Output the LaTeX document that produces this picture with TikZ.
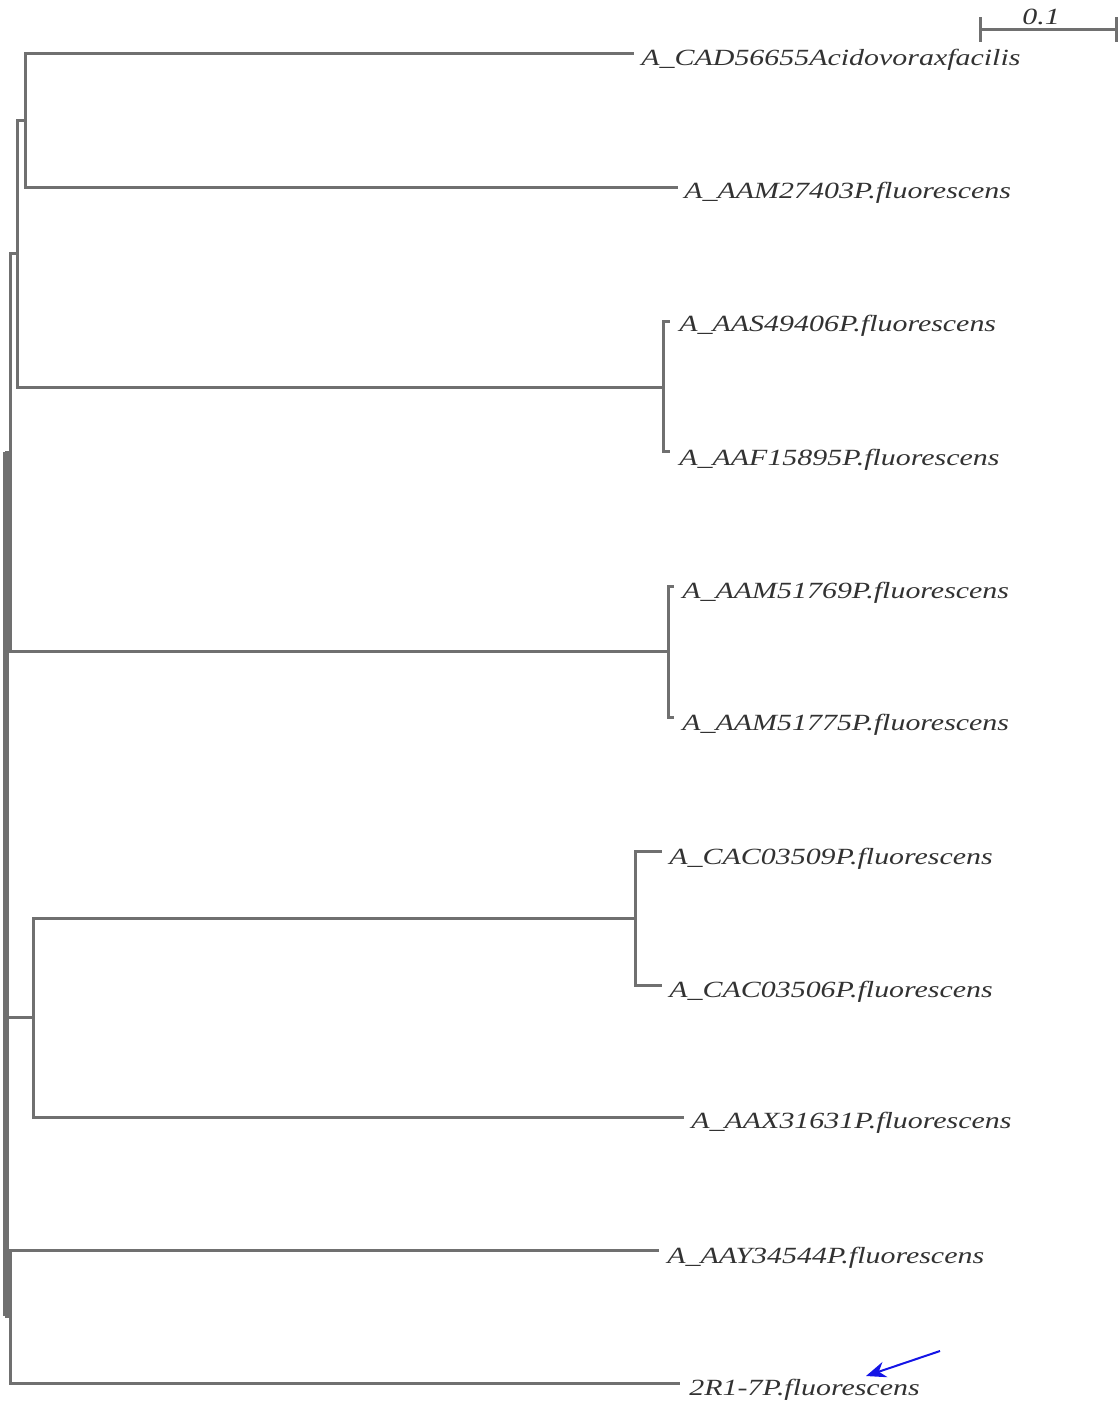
\documentclass[tikz,border=0pt]{standalone}
\usepackage{fontspec}
\usetikzlibrary{arrows.meta}
\setmainfont{Liberation Serif}
\definecolor{treeg}{RGB}{112,112,112}
\definecolor{labg}{RGB}{50,50,50}
\definecolor{arrowb}{RGB}{20,20,230}
\tikzset{
  branch/.style={draw=treeg, line width=1.5pt, line cap=rect},
  rootbranch/.style={draw=treeg, line width=3.4pt},
  leaflab/.style={anchor=west, inner sep=0pt, text=labg, font=\fontsize{11.6}{12}\selectfont\itshape},
}
\newcommand{\wlab}[1]{\scalebox{1.29}[1]{#1}}
\begin{document}
\begin{tikzpicture}[x=0.5pt,y=-0.5pt]
\useasboundingbox (0,0) rectangle (1118,1403);
% internal nodes
\coordinate (nA) at (25,120);
\coordinate (nB) at (17,253);
\coordinate (nC) at (10,452);
\coordinate (nD) at (6,1316);
\coordinate (nE) at (33,1017);
\coordinate (nF) at (10,1316);
\coordinate (nAAS) at (663,387);
\coordinate (nAAM) at (668,651);
\coordinate (nCAC) at (635,918);
% leaf tips
\coordinate (t1) at (632,53);
\coordinate (t2) at (676,187);
\coordinate (t3) at (668,321);
\coordinate (t4) at (668,451);
\coordinate (t5) at (672,586);
\coordinate (t6) at (672,717);
\coordinate (t7) at (660,851);
\coordinate (t8) at (660,985);
\coordinate (t9) at (682,1117);
\coordinate (t10) at (657,1250);
\coordinate (t11) at (678,1383);
% labels
\node[leaflab] (l1) at (641,60) {\wlab{A\_CAD56655Acidovoraxfacilis}};
\node[leaflab] (l2) at (684,193) {\wlab{A\_AAM27403P.fluorescens}};
\node[leaflab] (l3) at (679,326) {\wlab{A\_AAS49406P.fluorescens}};
\node[leaflab] (l4) at (679,460) {\wlab{A\_AAF15895P.fluorescens}};
\node[leaflab] (l5) at (682,593) {\wlab{A\_AAM51769P.fluorescens}};
\node[leaflab] (l6) at (682,725) {\wlab{A\_AAM51775P.fluorescens}};
\node[leaflab] (l7) at (669,859) {\wlab{A\_CAC03509P.fluorescens}};
\node[leaflab] (l8) at (669,992) {\wlab{A\_CAC03506P.fluorescens}};
\node[leaflab] (l9) at (691,1123) {\wlab{A\_AAX31631P.fluorescens}};
\node[leaflab] (l10) at (667,1258) {\wlab{A\_AAY34544P.fluorescens}};
\node[leaflab] (l11) at (689,1390) {\wlab{2R1-7P.fluorescens}};
% root
\draw[rootbranch] (6,452) -- (nD);
\draw[branch] (nD) -- (nF);
\draw[branch] (6,452) -- (nC);
\draw[branch] (6,1017) -- (nE);
% clade A
\draw[branch] (t1) -| (nA) |- (t2);
% clade B
\draw[branch] (nA) -- (17,120) |- (nAAS);
\draw[branch] (t3) -| (nAAS) |- (t4);
% clade C
\draw[branch] (10,253) |- (nAAM);
\draw[branch] (10,253) -- (nB);
\draw[branch] (t5) -| (nAAM) |- (t6);
% clade E
\draw[branch] (nCAC) -- (33,918) |- (t9);
\draw[branch] (t7) -| (nCAC) |- (t8);
% clade F
\draw[branch] (t10) -| (nF) |- (t11);
% scale bar
\coordinate (s1) at (980,29);
\coordinate (s2) at (1116,29);
\draw[branch] (s1) -- (s2);
\draw[branch] (980,18) -- (980,40);
\draw[branch] (1116,18) -- (1116,40);
\node[leaflab, anchor=center] (sl) at (1041,17) {\wlab{0.1}};
% arrow
\coordinate (a0) at (940,1351);
\coordinate (a1) at (866,1376);
\draw[arrowb, line width=1pt, -{Stealth[length=10pt,width=8pt]}] (a0) -- (a1);
\end{tikzpicture}
\end{document}
